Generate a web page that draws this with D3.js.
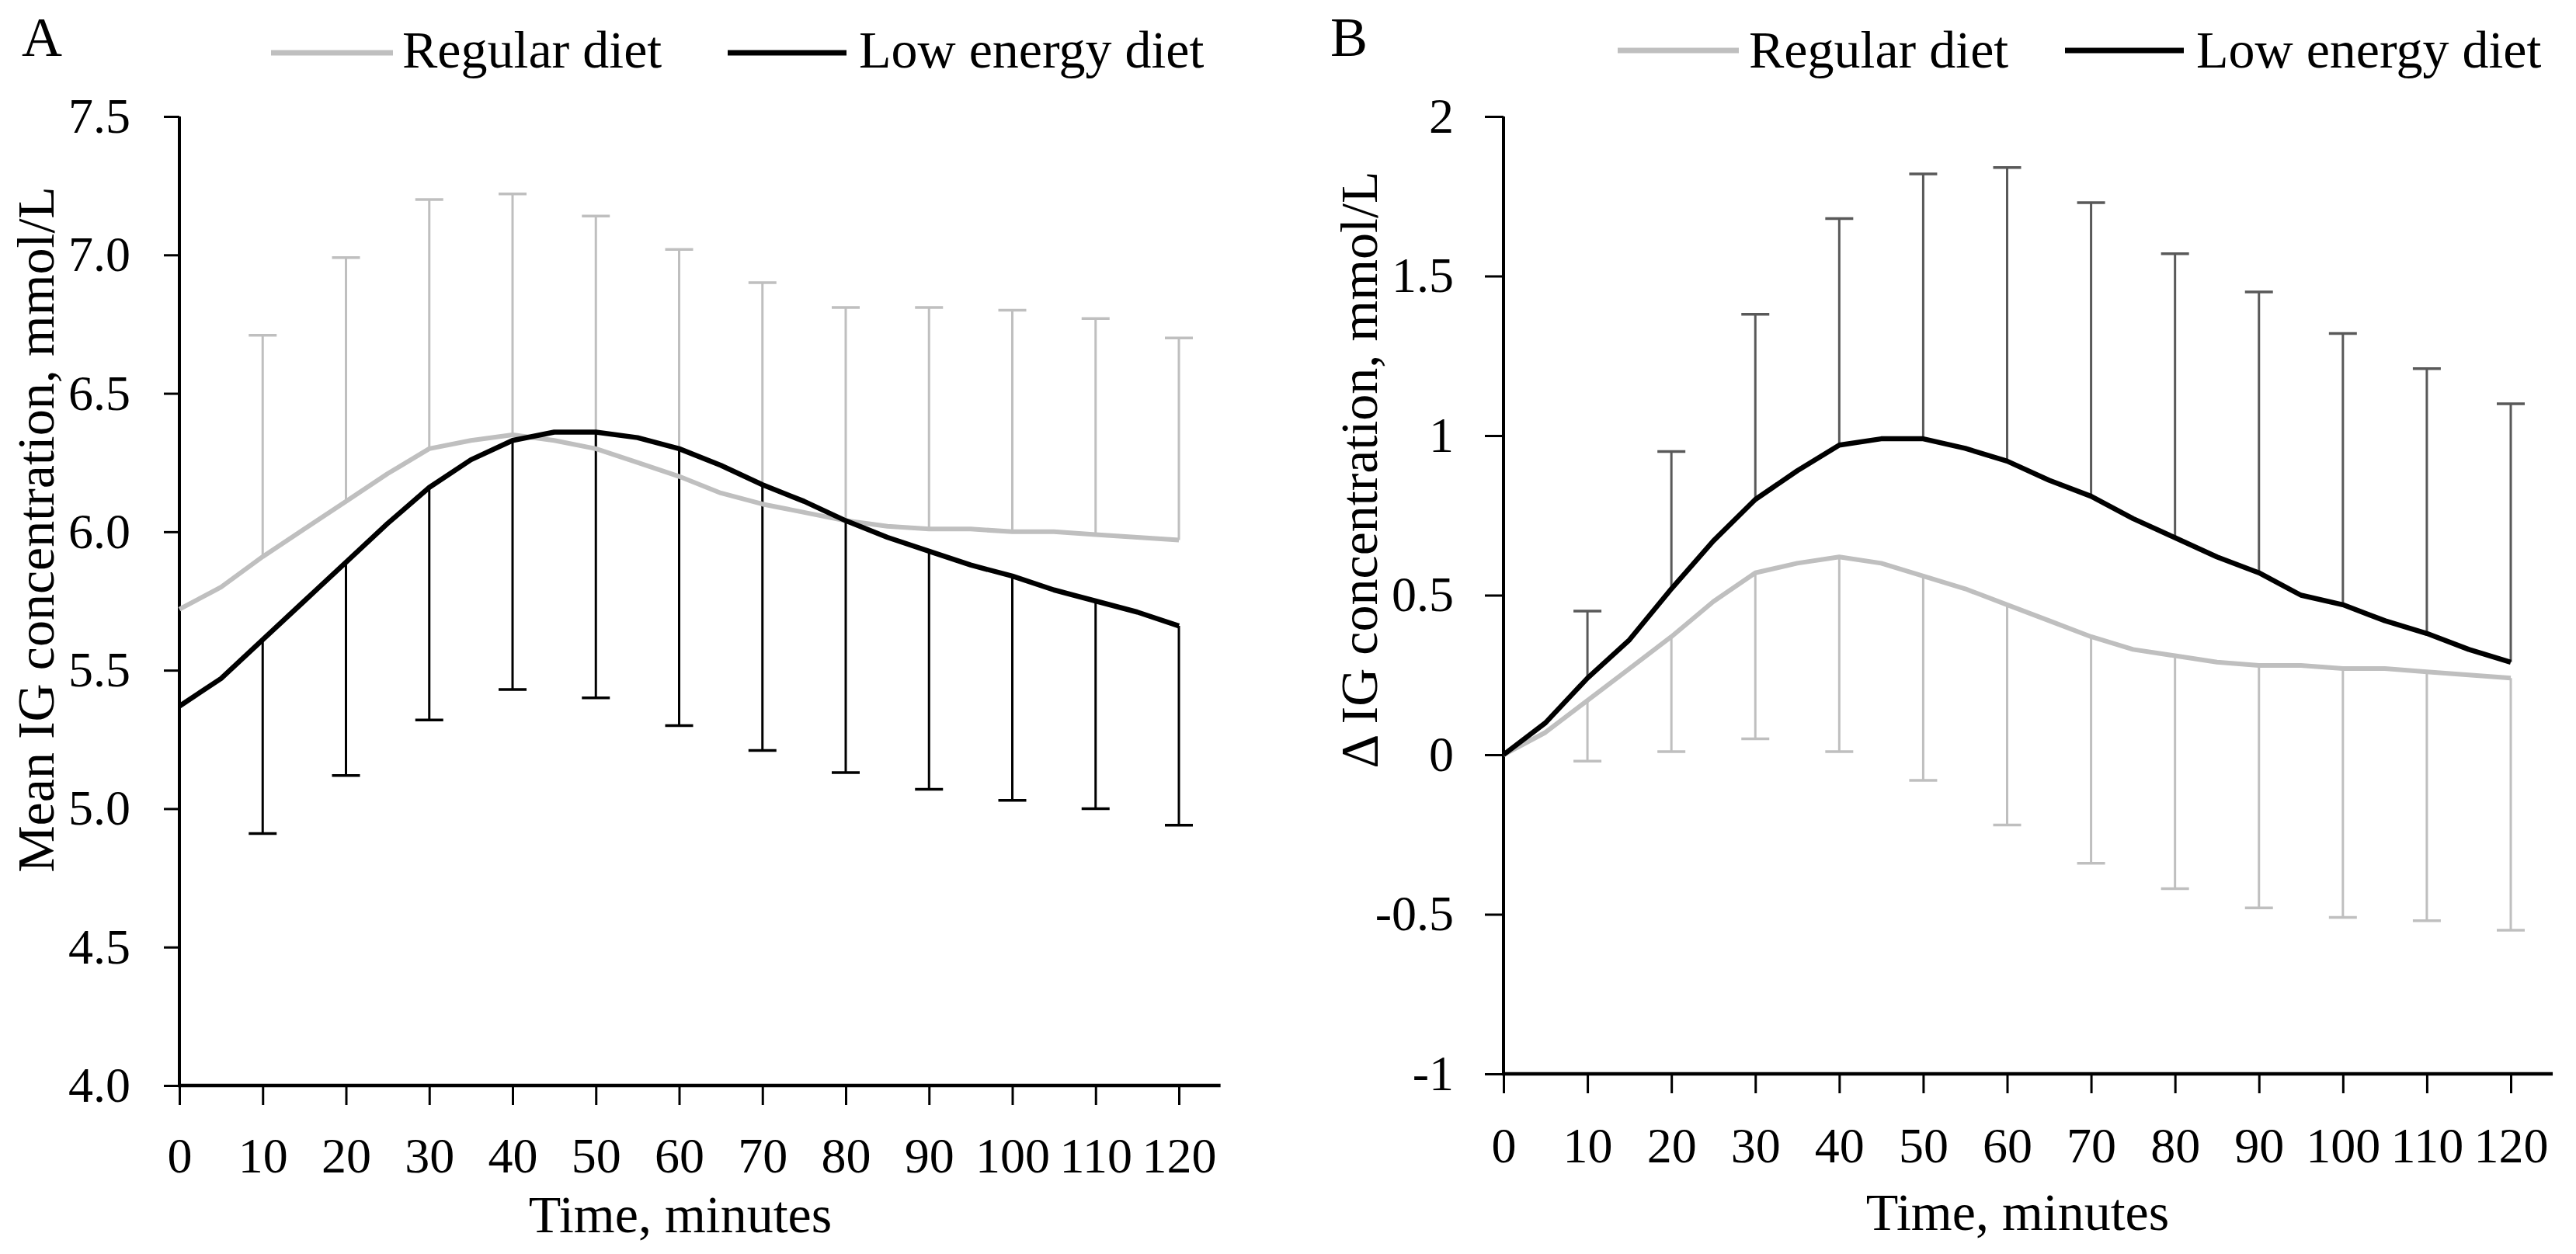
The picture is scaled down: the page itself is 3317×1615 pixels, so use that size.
<!DOCTYPE html>
<html>
<head>
  <title>Interstitial glucose, regular vs low energy diet</title>
  <style>
    body { margin: 0; background: #fff; }
    text { font-family: "Palatino Linotype", "Book Antiqua", "Liberation Serif", serif; fill: #000; }
    .tick text { font-size: 64px; }
    .axis-title { font-size: 68px; }
    .legend text { font-size: 68px; }
    .panel-letter { font-size: 72px; }
  </style>
</head>
<body>
<script src="https://cdnjs.cloudflare.com/ajax/libs/d3/7.8.5/d3.min.js"></script>
<script>
  // time points (minutes)
  const minutes = [0, 5, 10, 15, 20, 25, 30, 35, 40, 45, 50, 55, 60, 65, 70, 75, 80, 85, 90, 95, 100, 105, 110, 115, 120];
  const errMinutes = [10, 20, 30, 40, 50, 60, 70, 80, 90, 100, 110, 120];
  const xTicks = [0, 10, 20, 30, 40, 50, 60, 70, 80, 90, 100, 110, 120];

  // panel A - mean IG concentration, mmol/L
  const regularA = [5.72, 5.80, 5.91, 6.01, 6.11, 6.21, 6.30, 6.33, 6.35, 6.33, 6.30, 6.25, 6.20, 6.14, 6.10, 6.07, 6.04, 6.02, 6.01, 6.01, 6.00, 6.00, 5.99, 5.98, 5.97];
  const lowA = [5.37, 5.47, 5.61, 5.75, 5.89, 6.03, 6.16, 6.26, 6.33, 6.36, 6.36, 6.34, 6.30, 6.24, 6.17, 6.11, 6.04, 5.98, 5.93, 5.88, 5.84, 5.79, 5.75, 5.71, 5.66];
  const regularAErr = [6.71, 6.99, 7.20, 7.22, 7.14, 7.02, 6.90, 6.81, 6.81, 6.80, 6.77, 6.70];   // upper bar ends
  const lowAErr = [4.91, 5.12, 5.32, 5.43, 5.40, 5.30, 5.21, 5.13, 5.07, 5.03, 5.00, 4.94];       // lower bar ends
  const yTicksA = [4.0, 4.5, 5.0, 5.5, 6.0, 6.5, 7.0, 7.5];

  // panel B - delta IG concentration, mmol/L
  const regularB = [0, 0.07, 0.17, 0.27, 0.37, 0.48, 0.57, 0.60, 0.62, 0.60, 0.56, 0.52, 0.47, 0.42, 0.37, 0.33, 0.31, 0.29, 0.28, 0.28, 0.27, 0.27, 0.26, 0.25, 0.24];
  const lowB = [0, 0.10, 0.24, 0.36, 0.52, 0.67, 0.80, 0.89, 0.97, 0.99, 0.99, 0.96, 0.92, 0.86, 0.81, 0.74, 0.68, 0.62, 0.57, 0.50, 0.47, 0.42, 0.38, 0.33, 0.29];
  const regularBErr = [-0.02, 0.01, 0.05, 0.01, -0.08, -0.22, -0.34, -0.42, -0.48, -0.51, -0.52, -0.55];
  const lowBErr = [0.45, 0.95, 1.38, 1.68, 1.82, 1.84, 1.73, 1.57, 1.45, 1.32, 1.21, 1.10];
  const yTicksB = [-1, -0.5, 0, 0.5, 1, 1.5, 2];

  const seriesNames = ["Regular diet", "Low energy diet"];

  const width = 3317, height = 1615;
  const grey = "#bfbfbf";

  const svg = d3.select("body").append("svg")
    .attr("width", width)
    .attr("height", height);

  function drawPanel(p) {
    const x = d3.scaleLinear().domain([0, 120]).range(p.xRange);
    const y = d3.scaleLinear().domain(p.yDomain).range(p.yRange);
    const g = svg.append("g");

    // y axis
    const yAxis = g.append("g")
      .attr("transform", "translate(" + p.xRange[0] + ",0)")
      .call(d3.axisLeft(y).tickValues(p.yTicks).tickFormat(p.yFormat)
        .tickSize(p.yTickSize).tickSizeOuter(0).tickPadding(p.yPad));
    yAxis.select(".domain").remove();
    yAxis.selectAll(".tick line").attr("stroke", "#000").attr("stroke-width", 3);
    yAxis.append("line")
      .attr("x1", 0).attr("x2", 0)
      .attr("y1", p.yRange[1]).attr("y2", p.yRange[0])
      .attr("stroke", "#000").attr("stroke-width", 4);

    // x axis
    const xAxis = g.append("g")
      .attr("transform", "translate(0," + p.yRange[0] + ")")
      .call(d3.axisBottom(x).tickValues(xTicks).tickSize(25).tickSizeOuter(0));
    xAxis.select(".domain").remove();
    xAxis.selectAll(".tick line").attr("stroke", "#000").attr("stroke-width", 3);
    xAxis.selectAll(".tick text").attr("y", p.xLabelY).attr("dy", null);
    xAxis.append("line")
      .attr("x1", x(0) - 2).attr("x2", x(125))
      .attr("y1", 0).attr("y2", 0)
      .attr("stroke", "#000").attr("stroke-width", 4.5);

    const line = d3.line()
      .x((d, i) => x(minutes[i]))
      .y(d => y(d));

    // error bars
    function errorBars(vals, ends, color) {
      const bars = g.append("g").selectAll("g")
        .data(errMinutes)
        .join("g");
      bars.append("line")
        .attr("x1", t => x(t)).attr("x2", t => x(t))
        .attr("y1", (t, i) => y(vals[minutes.indexOf(t)]))
        .attr("y2", (t, i) => y(ends[i]))
        .attr("stroke", color).attr("stroke-width", 3);
      bars.append("line")
        .attr("x1", t => x(t) - 18).attr("x2", t => x(t) + 18)
        .attr("y1", (t, i) => y(ends[i]))
        .attr("y2", (t, i) => y(ends[i]))
        .attr("stroke", color).attr("stroke-width", 3.5);
    }
    errorBars(p.regular, p.regularErr, grey);
    errorBars(p.low, p.lowErr, p.lowErrColor);

    g.append("path").datum(p.regular)
      .attr("d", line).attr("fill", "none")
      .attr("stroke", grey).attr("stroke-width", 6)
      .attr("stroke-linejoin", "round");
    g.append("path").datum(p.low)
      .attr("d", line).attr("fill", "none")
      .attr("stroke", "#000").attr("stroke-width", 6.5)
      .attr("stroke-linejoin", "round");

    // titles
    g.append("text")
      .attr("class", "axis-title")
      .attr("text-anchor", "middle")
      .attr("x", p.xTitle[0]).attr("y", p.xTitle[1])
      .text("Time, minutes");
    g.append("text")
      .attr("class", "axis-title")
      .attr("text-anchor", "middle")
      .attr("transform", "translate(" + p.yTitle[0] + "," + p.yTitle[1] + ") rotate(-90)")
      .text(p.yLabel);
    g.append("text")
      .attr("class", "panel-letter")
      .attr("x", p.letterX).attr("y", 72)
      .text(p.letter);

    // legend
    const legend = g.append("g").attr("class", "legend");
    const colors = [grey, "#000"];
    p.legendX.forEach((lx, i) => {
      legend.append("line")
        .attr("x1", lx[0]).attr("x2", lx[1])
        .attr("y1", p.legendLineY).attr("y2", p.legendLineY)
        .attr("stroke", colors[i]).attr("stroke-width", 7);
      legend.append("text")
        .attr("x", lx[2]).attr("y", 87)
        .text(seriesNames[i]);
    });
  }

  drawPanel({
    letter: "A", letterX: 28,
    xRange: [231, 1518], yDomain: [4, 7.5], yRange: [1398, 150],
    yTicks: yTicksA, yFormat: d3.format(".1f"), yTickSize: 20, yPad: 43,
    xLabelY: 112,
    regular: regularA, low: lowA, regularErr: regularAErr, lowErr: lowAErr, lowErrColor: "#000",
    xTitle: [876, 1587], yTitle: [69, 682], yLabel: "Mean IG concentration, mmol/L",
    legendX: [[349, 506, 518], [937, 1090, 1106]], legendLineY: 68
  });

  drawPanel({
    letter: "B", letterX: 1713,
    xRange: [1936, 3233], yDomain: [-1, 2], yRange: [1383, 150],
    yTicks: yTicksB, yFormat: d => String(d), yTickSize: 24, yPad: 40,
    xLabelY: 114,
    regular: regularB, low: lowB, regularErr: regularBErr, lowErr: lowBErr, lowErrColor: "#595959",
    xTitle: [2598, 1584], yTitle: [1773, 605], yLabel: "\u0394 IG concentration, mmol/L",
    legendX: [[2083, 2239, 2252], [2659, 2812, 2828]], legendLineY: 65
  });
</script>
</body>
</html>
